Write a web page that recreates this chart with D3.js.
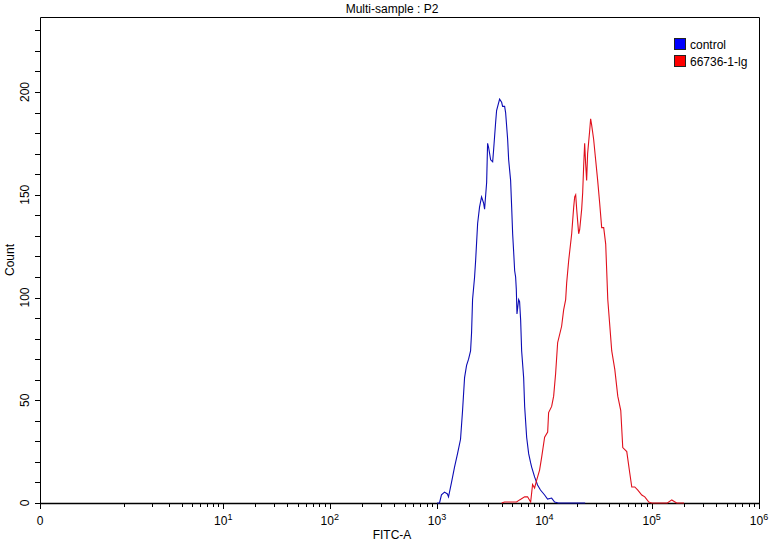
<!DOCTYPE html>
<html><head><meta charset="utf-8">
<script src="https://cdn.jsdelivr.net/npm/d3@7"></script>
<style>
body{margin:0;background:#fff;}
text{font-family:"Liberation Sans",Arial,sans-serif;fill:#000;}
</style></head>
<body><svg id="c" width="775" height="541"></svg>
<script>
// ---- data (FITC-A intensity, count) ----
const blueX = [1000,1055,1100,1175,1250,1280,1365,1456,1553,1656,1730,1806,1885,1968,2054,2099,2144,2239,2290,2390,2490,2600,2715,2775,2900,2960,3025,3160,3300,3370,3515,3590,3830,4000,4085,4265,4357,4550,4650,4850,4960,5066,5180,5290,5400,5480,5560,5762,5880,6015,6146,6415,6555,6842,7142,7455,7617,8113,8641,9204,10060,10715,11700,12470,13500,24000];
const blueY = [0,0,4,5.3,4.4,3,10,17.5,24,31,45,61,67,70,74,83,99,110,118,136,144,149,146,143,156,175,173,167,166,172,185,191,196.5,195,193,193,190,177,167,157,144,131,122,113,110,104,92,99,98,89,74,61,47,32,24,19.5,17.5,12.7,8.8,6.3,3.9,1.9,2.4,0.5,0,0];
const redX = [4000,4256,4940,5510,5875,6550,6980,7455,7770,8110,8470,9030,9420,10060,10740,10960,11700,12210,12740,13300,14490,15130,15800,16140,16860,17980,18770,19170,19590,20010,20890,21340,22280,22760,23250,23750,24260,24780,25310,26430,27000,27580,28790,30060,31390,32770,34220,35730,37300,38110,39000,42460,45330,48330,51530,53780,58610,62490,65260,69590,74310,80900,86300,94000,100000,140000,154000,165000,171000,200000];
const redY = [0,0.5,0.5,0.5,1.5,3,3,0.5,9,7.3,11,16,22,32,34.5,44,47,52,63,78,86,94,99,107,118,131,144,149,150,143,131,133,143,151,164,175,165,157,170,181,187,184,177,167,157,146,134,134,126,113,99,74,65,52,45,27,25,14.6,7.8,7.8,6.3,3.9,3,0.5,0,0,1.5,0.5,0,0];
const seriesNames = ["control","66736-1-lg"];
const seriesColors = ["#0c0cb4","#e0101c"];
const legendColors = ["#0000ff","#ff0000"];
const xMajor = [0,10,100,1000,10000,100000,1000000];
const xMajorExp = ["",1,2,3,4,5,6];
const yMajor = [0,50,100,150,200];
const yMinorStep = 10;
const yMax = 236.5;
const title = "Multi-sample : P2";
const xTitle = "FITC-A";
const yTitle = "Count";

// ---- layout ----
const L = 40, R = 759, T = 17, B = 503;
const svg = d3.select("#c");
const x = d3.scaleSymlog().constant(0.2).domain([0, 1e6]).range([L, R]);
const y = d3.scaleLinear().domain([0, yMax]).range([B, T]);

// minor x ticks
const xMinor = [];
for (let k = 1; k <= 9; k++) xMinor.push(k);
for (let e = 1; e <= 5; e++) for (let k = 2; k <= 9; k++) xMinor.push(k * Math.pow(10, e));

const g = svg.append("g");
// frame
g.append("path").attr("d", `M${L},${B}V${T}H${R}V${B}`).attr("fill","none").attr("stroke","#000").attr("stroke-width",1).attr("transform","translate(0.5,0.5)");

// y ticks
const yMinor = d3.range(0, yMax, yMinorStep);
g.selectAll(".ymt").data(yMinor).join("line")
  .attr("x1", L - 5).attr("x2", L).attr("y1", d => Math.round(y(d)) + 0.5).attr("y2", d => Math.round(y(d)) + 0.5)
  .attr("stroke","#000");
g.selectAll(".ylab").data(yMajor).join("text")
  .attr("transform", d => `translate(29,${y(d)}) rotate(-90)`)
  .attr("text-anchor","middle").attr("font-size", 12).text(d => d);

// x ticks
g.selectAll(".xmin").data(xMinor).join("line")
  .attr("x1", d => Math.round(x(d)) + 0.5).attr("x2", d => Math.round(x(d)) + 0.5)
  .attr("y1", B).attr("y2", B + 4).attr("stroke","#000");
g.selectAll(".xmaj").data(xMajor).join("line")
  .attr("x1", d => Math.round(x(d)) + 0.5).attr("x2", d => Math.round(x(d)) + 0.5)
  .attr("y1", B).attr("y2", B + 6).attr("stroke","#000");
const xl = g.selectAll(".xlab").data(xMajor).join("text")
  .attr("x", d => x(d)).attr("y", 525).attr("text-anchor","middle").attr("font-size", 12);
xl.each(function(d, i) {
  const t = d3.select(this);
  if (d === 0) { t.text("0"); return; }
  t.append("tspan").text("10");
  t.append("tspan").attr("dy", -5).attr("font-size", 9).text(xMajorExp[i]);
});

// axis line
g.append("line").attr("x1", L).attr("x2", R + 1).attr("y1", B + 0.5).attr("y2", B + 0.5).attr("stroke","#000").attr("stroke-width",1.5);

// curves
const line = d3.line().x(d => x(d[0])).y(d => y(d[1]));
const blue = blueX.map((v, i) => [v, blueY[i]]);
const red = redX.map((v, i) => [v, redY[i]]);
g.append("path").datum(blue).attr("d", line).attr("fill","none").attr("stroke", seriesColors[0]).attr("stroke-width",1.1);
g.append("path").datum(red).attr("d", line).attr("fill","none").attr("stroke", seriesColors[1]).attr("stroke-width",1.1);

// titles
svg.append("text").attr("x", 392).attr("y", 13).attr("text-anchor","middle").attr("font-size", 12).text(title);
svg.append("text").attr("x", 392).attr("y", 539).attr("text-anchor","middle").attr("font-size", 12).text(xTitle);
svg.append("text").attr("transform", "translate(14,260) rotate(-90)").attr("text-anchor","middle").attr("font-size", 12).text(yTitle);

// legend
const lg = svg.append("g").attr("transform","translate(674,38)");
seriesNames.forEach((n, i) => {
  lg.append("rect").attr("x", 0.5).attr("y", i * 17 + 0.5).attr("width", 11).attr("height", 11)
    .attr("fill", legendColors[i]).attr("stroke", "#222").attr("stroke-width", 1);
  lg.append("text").attr("x", 16).attr("y", i * 17 + 11).attr("font-size", 12).text(n);
});
</script></body></html>
